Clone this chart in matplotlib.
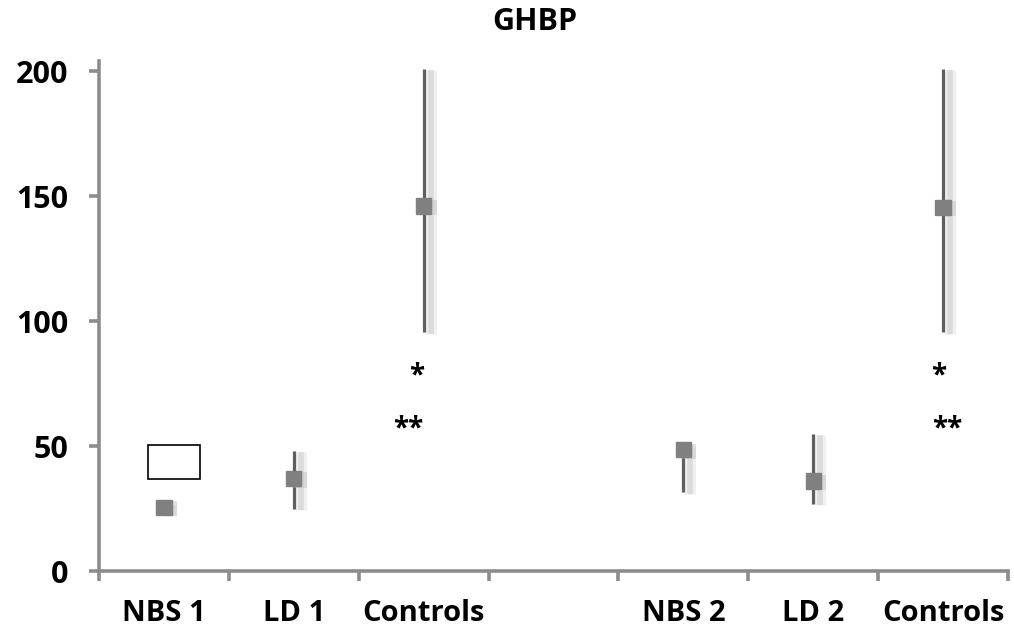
import numpy as np
import matplotlib.pyplot as plt
import matplotlib.patheffects as pe
from matplotlib.patches import Rectangle

plt.rcParams['font.family'] = ['Open Sans', 'DejaVu Sans']

# DATA
groups = ["NBS 1", "LD 1", "Controls", "", "NBS 2", "LD 2", "Controls"]
median = [25.5, 37, 146, np.nan, 48.5, 36, 145.5]
low = [22.5, 25, 95.5, np.nan, 31.5, 27, 95.5]
high = [27, 48, 201, np.nan, 50, 55, 201]
yticks = [0, 50, 100, 150, 200]

# significance marks (group index, y, text)
sig_idx = [2, 2, 6, 6]
sig_y = [78, 57, 78, 57]
sig_txt = ["*", "**", "*", "**"]
sig_dx = [-0.05, -0.12, -0.03, 0.03]

x = np.arange(len(groups))
med = np.array(median)
lo = np.array(low)
hi = np.array(high)

fig = plt.figure(figsize=(10.14, 6.37), dpi=100)
ax = fig.add_axes([0.0976, 0.1036, 0.8964, 0.8004])

# soft blurred shadow, built from a few faint layers
line_fx = [pe.SimpleLineShadow(offset=(5, -1), shadow_color='#d0d0d0', alpha=0.3, rho=1.0, linewidth=8),
           pe.SimpleLineShadow(offset=(5, -1), shadow_color='#bcbcbc', alpha=0.4, rho=1.0, linewidth=4),
           pe.Normal()]
mark_fx = [pe.SimplePatchShadow(offset=(4, -1), shadow_rgbFace='#bcbcbc', alpha=0.45),
           pe.Normal()]

for i in range(len(groups)):
    if np.isnan(med[i]):
        continue
    ax.plot([x[i], x[i]], [lo[i], hi[i]], color='#5f5f5f', lw=2.3,
            solid_capstyle='butt', path_effects=line_fx, zorder=2)
    ax.plot(x[i], med[i], marker='s', ms=11, color='#808080', mec='#808080',
            path_effects=mark_fx, zorder=3)

for i, yv, t, dx in zip(sig_idx, sig_y, sig_txt, sig_dx):
    ax.text(x[i] + dx, yv, t, ha='center', va='center', fontsize=20,
            fontweight='bold', color='black')

# empty text box
ax.add_patch(Rectangle((-0.12, 37), 0.4, 13.5, fill=False, ec='black', lw=1.2, zorder=4))

ax.set_xlim(-0.5, 6.5)
ax.set_ylim(0, 204)
ax.set_yticks(yticks)
ax.set_xticks(x)
ax.set_xticklabels(groups)
ax.set_xticks(np.arange(-0.5, 7, 1), minor=True)

for s in ['top', 'right']:
    ax.spines[s].set_visible(False)
for s in ['left', 'bottom']:
    ax.spines[s].set_color('#8c8c8c')
    ax.spines[s].set_linewidth(2.6)

ax.tick_params(axis='x', which='major', length=0, pad=20, labelsize=21)
ax.tick_params(axis='x', which='minor', length=7, width=2.6, color='#8c8c8c')
ax.tick_params(axis='y', length=7, width=2.6, color='#8c8c8c', pad=15, labelsize=22)
for lab in ax.get_xticklabels() + ax.get_yticklabels():
    lab.set_fontweight('bold')

fig.text(0.527, 0.966, "GHBP", ha='center', va='center', fontsize=22, fontweight='bold')

fig.savefig("out.png", dpi=100)
